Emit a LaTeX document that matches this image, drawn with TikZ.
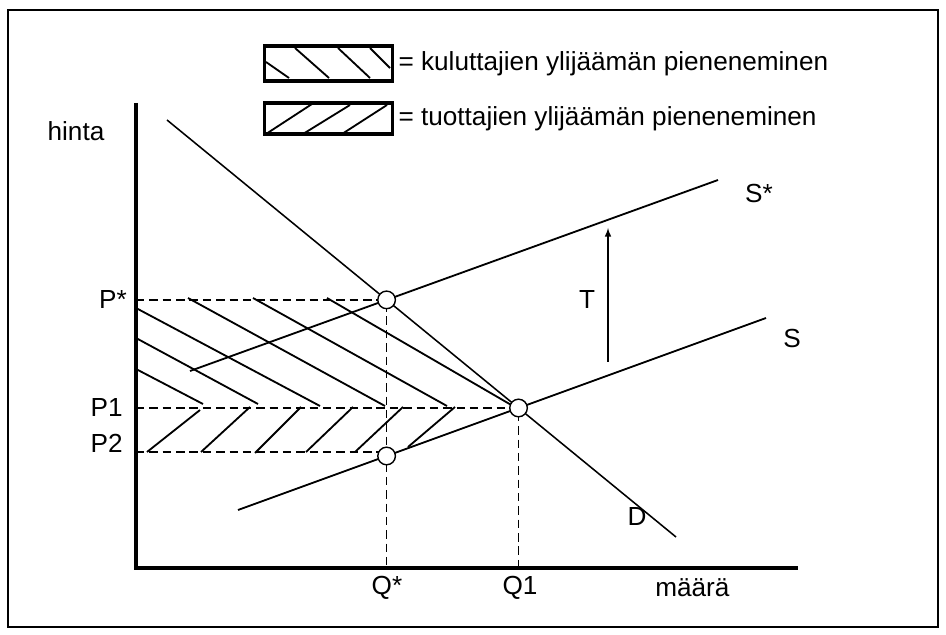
\documentclass[tikz,border=0pt]{standalone}
\usepackage{fontspec}
\setmainfont{Liberation Sans}
\usetikzlibrary{positioning}

\begin{document}
\begin{tikzpicture}[x=0.025cm, y=-0.025cm, >=latex,
  font=\fontsize{18.6}{21}\selectfont,
  curve/.style={line width=1.3pt},
  guide/.style={line width=1.1pt, dash pattern=on 6pt off 3.5pt},
  hatch/.style={line width=1.3pt},
  axis/.style={line width=2.8pt},
  pt/.style={circle, draw, fill=white, line width=1pt,
             minimum size=0.44cm, inner sep=0pt},
  legbox/.style={draw, line width=2.5pt, minimum width=3.2cm, inner sep=0pt},
  lbl/.style={inner sep=0pt}]
  \useasboundingbox (0,0) rectangle (946,635);
  \draw[line width=1.4pt] (8,10) rectangle (938,627);

  % legend
  \node[legbox, minimum height=0.88cm] (box1) at (328.5,63.5) {};
  \node[legbox, minimum height=0.78cm] (box2) at (328.5,118.5) {};
  \node[lbl, right=0.1cm of box1] (txt1) {= kuluttajien ylijäämän pieneneminen};
  \node[lbl, right=0.1cm of box2] (txt2) {= tuottajien ylijäämän pieneneminen};
  \foreach \xa/\ya/\xb/\yb in {266/62/289/78, 295/48/329/78,
                               338/48/370/78, 370/48/390/68}
    \draw[hatch] (\xa,\ya) -- (\xb,\yb);
  \foreach \xa/\ya/\xb/\yb in {266/134/312/104, 303/134/350/105,
                               342/134/387/105}
    \draw[hatch] (\xa,\ya) -- (\xb,\yb);

  % axes
  \coordinate (o) at (136,568);
  \coordinate (ytop) at (136,103);
  \coordinate (xend) at (798,568);
  \draw[axis] (ytop) -- (o) -- (xend);

  % demand and supply
  \coordinate (d0) at (167,120);
  \coordinate (d1) at (676,537);
  \coordinate (sstar0) at (190,371);
  \coordinate (sstar1) at (718,180);
  \coordinate (s0) at (238,510);
  \coordinate (s1) at (766,318);
  \coordinate (ppt) at (intersection of d0--d1 and sstar0--sstar1);
  \coordinate (qpt) at (intersection of d0--d1 and s0--s1);
  \coordinate (qbase) at (ppt |- o);
  \coordinate (q1base) at (qpt |- o);
  \coordinate (mpt) at (intersection of ppt--qbase and s0--s1);
  \coordinate (ptwo) at (136,452);

  % hatching
  \foreach \xa/\ya/\xb/\yb in {136/369/203/404, 136/338/258/404,
                               136/308/320/406, 188/298/385/406,
                               253/298/447/406, 327/298/513/406}
    \draw[hatch] (\xa,\ya) -- (\xb,\yb);
  \foreach \xa/\ya/\xb/\yb in {147/452/200/410, 201/452/250/407,
                               255/453/301/407, 306/452/353/407,
                               355/452/403/407, 408/447/455/407}
    \draw[hatch] (\xa,\ya) -- (\xb,\yb);

  \draw[curve, line width=1.1pt] (d0) -- (d1);
  \draw[curve] (sstar0) -- (sstar1);
  \draw[curve] (s0) -- (s1);

  % guides
  \draw[guide] (o |- ppt) -- (ppt) -- (qbase);
  \draw[guide] (o |- qpt) -- (qpt) -- (q1base);
  \draw[guide] (ptwo) -- (ptwo -| mpt);

  \node[pt] (pstar) at (ppt) {};
  \node[pt] (q1) at (qpt) {};
  \node[pt] (qstar) at (mpt) {};

  % tax shift
  \coordinate (t0) at (608,362);
  \coordinate (t1) at (608,228);
  \draw[->, line width=1.1pt] (t0) -- (t1);

  % labels
  \node[lbl] (lhinta) at (76,131) {hinta};
  \node[lbl, anchor=east] (lpstar) at (127,300) {P*};
  \node[lbl, anchor=east] (lp1) at (123,408) {P1};
  \node[lbl, anchor=east] (lp2) at (123,443) {P2};
  \node[lbl] (lqstar) at (387,588) {Q*};
  \node[lbl] (lq1) at (520,588) {Q1};
  \node[lbl, anchor=west] (lmaara) at (655,588) {määrä};
  \node[lbl] (lsstar) at (759,193) {S*};
  \node[lbl] (ls) at (792,338) {S};
  \node[lbl] (lt) at (587,300) {T};
  \node[lbl] (ld) at (637,517) {D};
\end{tikzpicture}
\end{document}
